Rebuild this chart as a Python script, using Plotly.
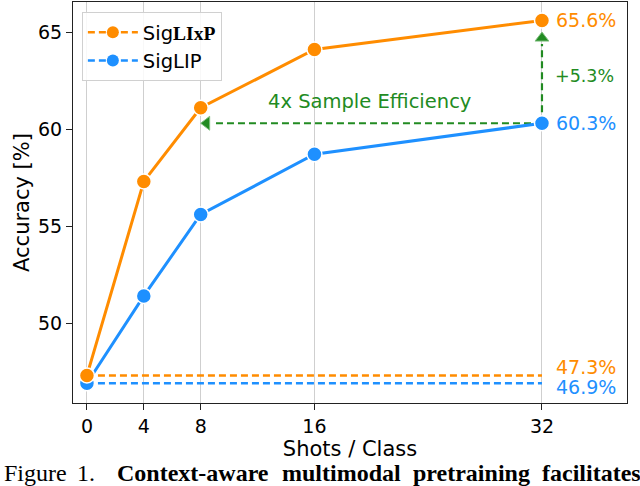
import plotly.graph_objects as go

# ---- data ----
shots = [0, 4, 8, 16, 32]
siglixp = [47.3, 57.3, 61.1, 64.1, 65.6]
siglip = [46.9, 51.4, 55.6, 58.7, 60.3]
x_ticks = [0, 4, 8, 16, 32]
y_ticks = [50, 55, 60, 65]
series_names = ["Sig<span style=\"font-family:'Liberation Serif'\"><b>LIxP</b></span>", "SigLIP"]
gain_label = "+5.3%"
eff_label = "4x Sample Efficiency"
caption_words = ["Figure", "1.", "<b>Context-aware</b>", "<b>multimodal</b>", "<b>pretraining</b>", "<b>facilitates</b>"]

ORANGE = "#ff8c00"
BLUE = "#1e90ff"
GREEN = "#228b22"
FONT = "DejaVu Sans"

W, H = 640, 486
ML, MR, MT, MB = 73, 13, 2, 83
PW = W - ML - MR
PH = H - MT - MB

fig = go.Figure()

# zero-shot baselines
fig.add_trace(go.Scatter(x=[shots[0], shots[-1]], y=[siglixp[0]] * 2, mode="lines",
                         line=dict(color=ORANGE, width=2.5, dash="7px,4px"), showlegend=False, hoverinfo="skip"))
fig.add_trace(go.Scatter(x=[shots[0], shots[-1]], y=[siglip[0]] * 2, mode="lines",
                         line=dict(color=BLUE, width=2.5, dash="7px,4px"), showlegend=False, hoverinfo="skip"))

# sample efficiency arrow (from SigLIP@32 back to SigLIxP@8)
match_x = shots[2]
fig.add_trace(go.Scatter(x=[shots[-1], match_x + 0.85], y=[siglip[-1]] * 2, mode="lines",
                         line=dict(color=GREEN, width=2.2, dash="7px,4px"), showlegend=False, hoverinfo="skip"))
fig.add_trace(go.Scatter(x=[match_x + 0.42], y=[siglip[-1]], mode="markers",
                         marker=dict(symbol="triangle-left", size=12, color=GREEN,
                                     line=dict(color="#7fbf7f", width=1)), showlegend=False, hoverinfo="skip"))
# gain arrow
fig.add_trace(go.Scatter(x=[shots[-1]] * 2, y=[siglip[-1], siglixp[-1] - 1.22], mode="lines",
                         line=dict(color=GREEN, width=2.2, dash="7px,4px"), showlegend=False, hoverinfo="skip"))
fig.add_trace(go.Scatter(x=[shots[-1]], y=[siglixp[-1] - 0.91], mode="markers",
                         marker=dict(symbol="triangle-up", size=12, color=GREEN,
                                     line=dict(color="#7fbf7f", width=1)), showlegend=False, hoverinfo="skip"))

# main series
for ys, col in [(siglip, BLUE), (siglixp, ORANGE)]:
    fig.add_trace(go.Scatter(x=shots, y=ys, mode="lines+markers",
                             line=dict(color=col, width=3),
                             marker=dict(size=15, color=col, line=dict(color="white", width=1.5)),
                             showlegend=False))

# legend entries (dashed handles)
for name, col in [(series_names[0], ORANGE), (series_names[1], BLUE)]:
    fig.add_trace(go.Scatter(x=[None], y=[None], mode="lines+markers", name=name,
                             line=dict(color=col, width=2.5, dash="7px,4px"),
                             marker=dict(size=12, color=col)))

ann = []
lab_font = dict(family=FONT, size=19)
ann.append(dict(x=shots[-1], y=siglixp[-1], xref="x", yref="y", text=f"{siglixp[-1]:.1f}%", showarrow=False,
                xanchor="left", yanchor="middle", xshift=12, font=dict(lab_font, color=ORANGE)))
ann.append(dict(x=shots[-1], y=siglip[-1], xref="x", yref="y", text=f"{siglip[-1]:.1f}%", showarrow=False,
                xanchor="left", yanchor="middle", xshift=12, font=dict(lab_font, color=BLUE)))
ann.append(dict(x=shots[-1], y=siglixp[0], xref="x", yref="y", text=f"{siglixp[0]:.1f}%", showarrow=False,
                xanchor="left", yanchor="middle", xshift=12, yshift=8, font=dict(lab_font, color=ORANGE)))
ann.append(dict(x=shots[-1], y=siglip[0], xref="x", yref="y", text=f"{siglip[0]:.1f}%", showarrow=False,
                xanchor="left", yanchor="middle", xshift=12, yshift=-4, font=dict(lab_font, color=BLUE)))
ann.append(dict(x=shots[-1], y=62.73, xref="x", yref="y", text=gain_label, showarrow=False,
                xanchor="left", yanchor="middle", xshift=11, font=dict(family=FONT, size=17.5, color=GREEN)))
ann.append(dict(x=19.85, y=61.41, xref="x", yref="y", text=eff_label, showarrow=False,
                xanchor="center", yanchor="middle", font=dict(family=FONT, size=19.5, color=GREEN)))

# caption
cap_px = [2, 75, 115, 280, 411, 540]
cap_y = (MT + PH - 473) / PH
for w, px in zip(caption_words, cap_px):
    ann.append(dict(x=(px - ML) / PW, y=cap_y, xref="paper", yref="paper", text=w, showarrow=False,
                    xanchor="left", yanchor="middle",
                    font=dict(family="Liberation Serif", size=24, color="black")))

fig.update_layout(
    width=W, height=H,
    margin=dict(l=ML, r=MR, t=MT, b=MB, autoexpand=False),
    plot_bgcolor="white", paper_bgcolor="white",
    font=dict(family=FONT, color="black"),
    legend=dict(x=0.016, y=0.975, xanchor="left", yanchor="top", itemwidth=50,
                bgcolor="rgba(255,255,255,0.85)", bordercolor="#d0d0d0", borderwidth=1,
                font=dict(family=FONT, size=19.5, color="black"), tracegroupgap=0),
    annotations=ann,
)
fig.update_xaxes(range=[-0.98, 37.98], tickvals=x_ticks, ticktext=[str(t) for t in x_ticks],
                 automargin=False,
                 showgrid=True, gridcolor="#cfcfcf", gridwidth=1, zeroline=False,
                 showline=True, linecolor="#222", linewidth=1.2, mirror=True,
                 ticks="outside", ticklen=6, tickcolor="#222", tickfont=dict(size=19),
                 title=dict(text="Shots / Class", font=dict(size=21), standoff=2))
fig.update_yaxes(range=[45.88, 66.55], tickvals=y_ticks, ticktext=[str(t) for t in y_ticks],
                 automargin=False,
                 showgrid=False, zeroline=False,
                 showline=True, linecolor="#222", linewidth=1.2, mirror=True,
                 ticks="outside", ticklen=6, tickcolor="#222", tickfont=dict(size=19),
                 title=dict(text="Accuracy [%]", font=dict(size=21), standoff=2))

fig.write_html("out.html", config={"displayModeBar": False},
               post_script="document.body.style.margin='0';document.body.style.overflow='hidden';")
